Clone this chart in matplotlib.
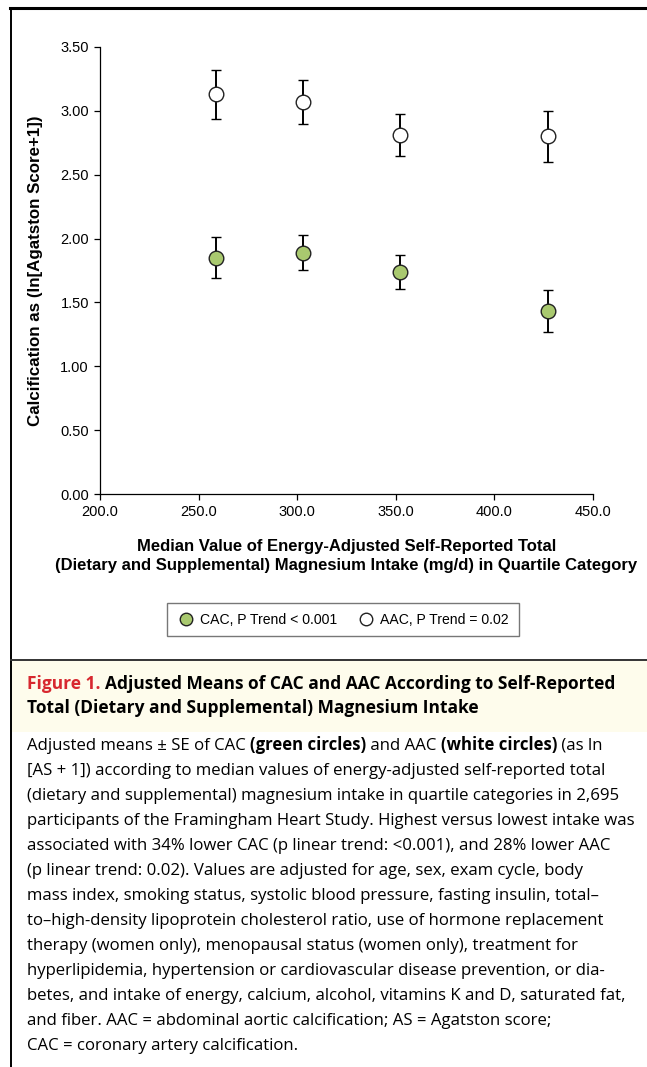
import matplotlib
matplotlib.use('Agg')
import matplotlib.pyplot as plt
from matplotlib.lines import Line2D
from matplotlib.patches import Rectangle

# medians of magnesium intake quartiles (mg/d)
x_median = [259, 303, 352, 427]
cac_mean = [1.85, 1.89, 1.74, 1.43]
cac_se = [0.16, 0.135, 0.135, 0.165]
aac_mean = [3.13, 3.07, 2.81, 2.80]
aac_se = [0.19, 0.17, 0.165, 0.20]

y_ticks = [0.0, 0.5, 1.0, 1.5, 2.0, 2.5, 3.0, 3.5]
x_ticks = [200, 250, 300, 350, 400, 450]

legend_labels = ['CAC, P Trend < 0.001', 'AAC, P Trend = 0.02']
header_lines = [
    [('Figure 1. ', '#d7282f'), ('Adjusted Means of CAC and AAC According to Self-Reported', 'black')],
    [('Total (Dietary and Supplemental) Magnesium Intake', 'black')],
]
body_lines = [
    [('Adjusted means \u00b1 SE of CAC ', 'normal'), ('(green circles)', 'bold'), (' and AAC ', 'normal'),
     ('(white circles)', 'bold'), (' (as ln', 'normal')],
    [('[AS + 1]) according to median values of energy-adjusted self-reported total', 'normal')],
    [('(dietary and supplemental) magnesium intake in quartile categories in 2,695', 'normal')],
    [('participants of the Framingham Heart Study. Highest versus lowest intake was', 'normal')],
    [('associated with 34% lower CAC (p linear trend: <0.001), and 28% lower AAC', 'normal')],
    [('(p linear trend: 0.02). Values are adjusted for age, sex, exam cycle, body', 'normal')],
    [('mass index, smoking status, systolic blood pressure, fasting insulin, total\u2013', 'normal')],
    [('to\u2013high-density lipoprotein cholesterol ratio, use of hormone replacement', 'normal')],
    [('therapy (women only), menopausal status (women only), treatment for', 'normal')],
    [('hyperlipidemia, hypertension or cardiovascular disease prevention, or dia-', 'normal')],
    [('betes, and intake of energy, calcium, alcohol, vitamins K and D, saturated fat,', 'normal')],
    [('and fiber. AAC = abdominal aortic calcification; AS = Agatston score;', 'normal')],
    [('CAC = coronary artery calcification.', 'normal')],
]

W, H = 647, 1067
fig = plt.figure(figsize=(W / 100, H / 100), dpi=100)
plt.rcParams['font.family'] = ['Liberation Sans', 'DejaVu Sans']

def fx(px):
    return px / W

def fy(py):
    return 1 - py / H

# frame lines and caption header background
fig.add_artist(Rectangle((fx(11), fy(732)), 1, fy(660) - fy(732), transform=fig.transFigure,
                         fc='#fefcec', ec='none', zorder=0))
fig.add_artist(Line2D([fx(10), 1], [fy(8), fy(8)], color='black', lw=2.2))
fig.add_artist(Line2D([fx(11), fx(11)], [fy(8), 0], color='black', lw=1.4))
fig.add_artist(Line2D([fx(11), 1], [fy(660), fy(660)], color='#333333', lw=1.4))

ax = fig.add_axes([fx(100), fy(494), fx(593) - fx(100), fy(47) - fy(494)])
ax.errorbar(x_median, aac_mean, yerr=aac_se, fmt='o', color='black', mfc='white', mec='#222222',
            ms=10.5, mew=1.0, elinewidth=1.4, capsize=3.4, capthick=2.0, zorder=3)
ax.errorbar(x_median, cac_mean, yerr=cac_se, fmt='o', color='black', mfc='#a9c96f', mec='#222222',
            ms=10.5, mew=1.0, elinewidth=1.4, capsize=3.4, capthick=2.0, zorder=3)
ax.set_xlim(200, 450)
ax.set_ylim(0, 3.5)
ax.set_xticks(x_ticks)
ax.set_xticklabels([f'{v:.1f}' for v in x_ticks])
ax.set_yticks(y_ticks)
ax.set_yticklabels([f'{v:.2f}' for v in y_ticks])
for s in ['top', 'right']:
    ax.spines[s].set_visible(False)
for s in ['left', 'bottom']:
    ax.spines[s].set_linewidth(0.9)
ax.tick_params(axis='both', direction='out', length=4, width=0.9, labelsize=10.5, pad=4)
ax.set_ylabel('Calcification as (ln[Agatston Score+1])', fontsize=12.2, fontweight='bold', labelpad=12)
ax.set_xlabel('Median Value of Energy-Adjusted Self-Reported Total\n'
              '(Dietary and Supplemental) Magnesium Intake (mg/d) in Quartile Category',
              fontsize=12, fontweight='bold', labelpad=14, linespacing=1.4)

handles = [Line2D([], [], marker='o', ls='', mfc='#a9c96f', mec='#222222', ms=9, mew=1.0),
           Line2D([], [], marker='o', ls='', mfc='white', mec='#222222', ms=9, mew=1.0)]
fig.legend(handles, legend_labels, loc='center', bbox_to_anchor=(fx(343), fy(619.5)), ncol=2,
           frameon=True, fancybox=False, edgecolor='#555555', fontsize=10.1, handletextpad=0.4,
           columnspacing=1.5, borderpad=0.7, handlelength=1.2)

# caption text, drawn segment by segment
renderer = fig.canvas.get_renderer()

def draw_line(x0, y0, segs, **kw):
    x = x0
    for txt, style in segs:
        t = fig.text(fx(x), fy(y0), txt, va='baseline', ha='left', **style, **kw)
        bb = t.get_window_extent(renderer)
        x += bb.width

cap_font = ['Open Sans', 'DejaVu Sans']
for i, segs in enumerate(header_lines):
    draw_line(27, 689 + i * 24, [(t, {'color': c, 'fontweight': 'bold'}) for t, c in segs],
              fontsize=12.5, family=cap_font)
for i, segs in enumerate(body_lines):
    draw_line(27, 750 + i * 25, [(t, {'fontweight': w}) for t, w in segs],
              fontsize=12.1, family=cap_font)

fig.savefig('out.png', dpi=100)
